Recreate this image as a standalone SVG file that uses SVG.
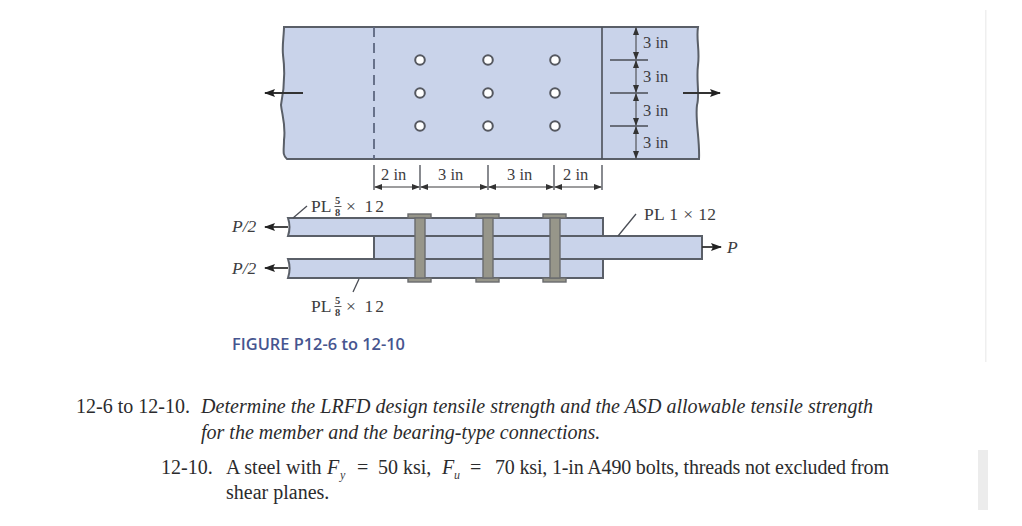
<svg xmlns="http://www.w3.org/2000/svg" width="1022" height="526" viewBox="0 0 1022 526">
<style>
text{font-family:"Liberation Serif","Times New Roman",serif;fill:#3d3d3f}
.d{font-size:16.5px}
.l{font-size:17.5px}
.f{font-size:10.5px;font-weight:600}
.i{font-style:italic}
.t{font-size:20px;fill:#2b2b2d}
.fill{fill:#c9d3ea;stroke:#5a5f68;stroke-width:2}
.ln{fill:none;stroke:#4a4d55;stroke-width:1.3}
.bk{fill:none;stroke:#333;stroke-width:1.8}
.hole{fill:#fff;stroke:#555860;stroke-width:2}
.shank{fill:#97968a;stroke:#6a6b6e;stroke-width:1.4}
.dim{fill:none;stroke:#3a3a3c;stroke-width:1;marker-start:url(#as);marker-end:url(#a)}
</style>
<defs>
<marker id="a" markerWidth="8" markerHeight="6" refX="7" refY="3" orient="auto" markerUnits="userSpaceOnUse"><path d="M0 0L8 3L0 6z" fill="#333"/></marker>
<marker id="as" markerWidth="8" markerHeight="6" refX="1" refY="3" orient="auto" markerUnits="userSpaceOnUse"><path d="M8 0L0 3L8 6z" fill="#333"/></marker>
<marker id="af" markerWidth="11" markerHeight="8" refX="10" refY="4" orient="auto" markerUnits="userSpaceOnUse"><path d="M0 0L11 4L0 8L2 4z" fill="#222"/></marker>
</defs>
<rect x="985" y="10" width="1.5" height="352" fill="#efefef"/>
<rect x="978" y="450" width="10" height="60" fill="#ececec"/>
<g id="top-plate">
<path class="fill" d="M284 27H698C696 40 700 50 698 65C696 80 700 95 697 105C695 120 700 140 699 159H287C282 155 284 150 284 140C286 125 282 115 281 105C284 90 285 70 283 55C282 45 284 35 284 27Z"/>
<line x1="374" y1="27" x2="374" y2="159" stroke="#5d6780" stroke-width="1.8" stroke-dasharray="10 6"/>
<line x1="602" y1="27" x2="602" y2="159" stroke="#4c5058" stroke-width="1.6"/>
</g>
<g id="holes">
<circle class="hole" cx="420" cy="60" r="4.8"/><circle class="hole" cx="420" cy="93" r="4.8"/><circle class="hole" cx="420" cy="126" r="4.8"/>
<circle class="hole" cx="488" cy="60" r="4.8"/><circle class="hole" cx="488" cy="93" r="4.8"/><circle class="hole" cx="488" cy="126" r="4.8"/>
<circle class="hole" cx="555" cy="60" r="4.8"/><circle class="hole" cx="555" cy="93" r="4.8"/><circle class="hole" cx="555" cy="126" r="4.8"/>
</g>
<g id="section">
<rect class="fill" x="374" y="236" width="328" height="23"/>
<path class="fill" d="M288 218H603V236H288C290 230 290 224 288 218Z"/>
<path class="fill" d="M288 259H603V278H288C290 272 290 265 288 259Z"/>
<rect x="604" y="237" width="97" height="21" fill="#c9d3ea"/>
</g>
<g id="bolts">
<rect class="shank" x="408" y="214" width="23" height="4"/><rect class="shank" x="408" y="278" width="23" height="4"/><rect class="shank" x="415" y="218" width="10" height="60"/>
<rect class="shank" x="476" y="214" width="23" height="4"/><rect class="shank" x="476" y="278" width="23" height="4"/><rect class="shank" x="483" y="218" width="10" height="60"/>
<rect class="shank" x="543" y="214" width="23" height="4"/><rect class="shank" x="543" y="278" width="23" height="4"/><rect class="shank" x="550" y="218" width="10" height="60"/>
</g>
<g id="connectors">
<path class="bk" d="M303 93H265" marker-end="url(#af)"/>
<path class="bk" d="M683 93H720" marker-end="url(#af)"/>
<path class="bk" d="M288 227H265" marker-end="url(#af)"/>
<path class="bk" d="M288 268H265" marker-end="url(#af)"/>
<path class="bk" d="M702 247H721" marker-end="url(#af)"/>
<path class="ln" d="M374 165V190M420 165V190M488 165V190M554 165V190M602 165V190"/>
<path class="dim" d="M375 187H419"/><path class="dim" d="M421 187H487"/><path class="dim" d="M489 187H553"/><path class="dim" d="M555 187H601"/>
<path class="ln" d="M610 60H648M610 93H648M610 126H648"/>
<path class="dim" d="M636 28V59"/><path class="dim" d="M636 61V92"/><path class="dim" d="M636 94V125"/><path class="dim" d="M636 127V158"/>
<path class="ln" d="M293 218L307 206"/>
<path class="ln" d="M359 279L353 292"/>
<path class="ln" d="M618 236L636 214"/>
</g>
<g id="labels">
<text class="d" x="643" y="48">3 in</text><text class="d" x="643" y="82">3 in</text><text class="d" x="643" y="116">3 in</text><text class="d" x="643" y="148">3 in</text>
<text class="d" x="381" y="180">2 in</text><text class="d" x="438" y="180">3 in</text><text class="d" x="507" y="180">3 in</text><text class="d" x="563" y="180">2 in</text>
<text class="l" x="311" y="212">PL</text><text class="f" x="335" y="204">5</text><rect x="334.500" y="206" width="7" height="0.9" fill="#444"/><text class="f" x="335" y="216">8</text><text class="l" x="346" y="212" textLength="38">× 12</text>
<text class="l" x="311" y="312">PL</text><text class="f" x="335" y="304">5</text><rect x="334.500" y="306" width="7" height="0.9" fill="#444"/><text class="f" x="335" y="316">8</text><text class="l" x="346" y="312" textLength="38">× 12</text>
<text class="l" x="644" y="220" textLength="72">PL 1 × 12</text>
<text class="l i" x="232" y="232">P/2</text><text class="l i" x="232" y="274">P/2</text><text class="l i" x="727" y="253">P</text>
<text x="232" y="350" style="font-family:'Open Sans','Noto Sans',sans-serif;font-size:16.4px;font-weight:600;fill:#46558f">FIGURE P12-6 to 12-10</text>
</g>
<g id="problem">
<text class="t" x="76" y="413">12-6 to 12-10.</text>
<text class="t i" x="201" y="413" textLength="672">Determine the LRFD design tensile strength and the ASD allowable tensile strength</text>
<text class="t i" x="201" y="439">for the member and the bearing-type connections.</text>
<text class="t" x="161" y="474">12-10.</text>
<text class="t" x="226" y="474">A steel with</text>
<text class="t i" x="327" y="474">F</text><text class="i" font-size="12" x="340" y="479">y</text>
<text class="t" x="357" y="474">=</text>
<text class="t" x="378" y="474">50 ksi,</text>
<text class="t i" x="442" y="474">F</text><text class="i" font-size="12" x="454" y="479">u</text>
<text class="t" x="470" y="474">=</text>
<text class="t" x="495" y="474" textLength="394">70 ksi, 1-in A490 bolts, threads not excluded from</text>
<text class="t" x="226" y="499">shear planes.</text>
</g>
</svg>
